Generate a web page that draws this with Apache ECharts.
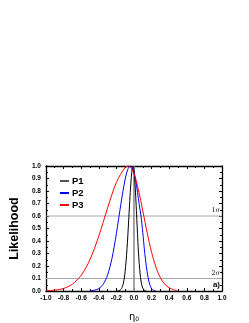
<!DOCTYPE html>
<html><head><meta charset="utf-8">
<script src="https://cdn.jsdelivr.net/npm/echarts@6/dist/echarts.min.js"></script>
<style>html,body{margin:0;padding:0;background:#fff}#c{width:249px;height:323px}</style>
</head><body><div id="c"></div>
<script>
// P1 (black)
const p1X = [-0.20,-0.18,-0.16,-0.14,-0.13,-0.12,-0.11,-0.10,-0.09,-0.08,-0.07,-0.06,-0.05,-0.04,-0.03,-0.02,-0.01,0.00,0.01,0.02,0.03,0.04,0.05,0.06,0.07,0.08,0.09,0.10,0.12,0.14];
const p1Y = [0,0.001,0.006,0.021,0.038,0.064,0.103,0.159,0.234,0.33,0.44,0.567,0.695,0.815,0.91,0.98,1.0,0.97,0.88,0.755,0.61,0.46,0.32,0.22,0.135,0.08,0.044,0.023,0.005,0];
// P2 (blue)
const p2X = [-0.50,-0.45,-0.40,-0.35,-0.30,-0.25,-0.20,-0.15,-0.10,-0.07,-0.04,-0.02,0.00,0.02,0.04,0.06,0.08,0.10,0.12,0.14,0.16,0.18,0.20,0.22,0.25];
const p2Y = [0.0016,0.006,0.019,0.053,0.127,0.26,0.458,0.69,0.896,0.973,1.0,0.985,0.95,0.88,0.79,0.69,0.6,0.47,0.32,0.2,0.11,0.05,0.02,0.007,0];
// P3 (red)
const p3X = [-1.0,-0.9,-0.8,-0.7,-0.6,-0.5,-0.4,-0.3,-0.2,-0.1,-0.06,0.0,0.05,0.1,0.15,0.2,0.25,0.3,0.35,0.4,0.45,0.5];
const p3Y = [0.0018,0.0065,0.02,0.054,0.125,0.25,0.438,0.663,0.869,0.989,1.0,0.94,0.81,0.642,0.466,0.31,0.19,0.106,0.054,0.026,0.011,0];
// reference levels
const sigmaLevels = [0.6, 0.1];
const sigmaLabels = ['1σ', '2σ'];

const zip = (xs, ys) => xs.map((x, i) => [x, ys[i]]);
const chart = echarts.init(document.getElementById('c'), null, {renderer: 'canvas'});
const lblFont = {fontFamily: 'Liberation Sans, Arial, sans-serif', fontWeight: 'bold', fontSize: 6.5, color: '#000'};
const gray = '#a8a8a8';

const series = [];
sigmaLevels.forEach((v, i) => {
  series.push({type: 'line', name: 's' + i, data: [[-1, v], [1, v]], symbol: 'none', silent: true,
    lineStyle: {color: gray, width: 1}, z: 1});
});
series.push({type: 'line', name: 'zero', data: [[0, 0], [0, 1]], symbol: 'none', silent: true,
  lineStyle: {color: '#999', width: 1.8}, z: 1});
series.push({type: 'line', name: 'P1', data: zip(p1X, p1Y), symbol: 'none', smooth: 0.3, lineStyle: {color: '#000', width: 1}, itemStyle: {color: '#555'}, z: 3});
series.push({type: 'line', name: 'P2', data: zip(p2X, p2Y), symbol: 'none', smooth: 0.3, lineStyle: {color: '#0000ff', width: 1}, itemStyle: {color: '#0000ff'}, z: 3});
series.push({type: 'line', name: 'P3', data: zip(p3X, p3Y), symbol: 'none', smooth: 0.3, lineStyle: {color: '#ff0000', width: 1}, itemStyle: {color: '#ff0000'}, z: 3});

const axLine = {onZero: false, lineStyle: {color: '#000', width: 1.3}};
const tick = {inside: true, length: 3, lineStyle: {color: '#000'}};
const minor = {show: true, splitNumber: 2, length: 2, lineStyle: {color: '#000'}};

const option = {
  animation: false,
  backgroundColor: '#fff',
  grid: {left: 42, right: 27, top: 166, bottom: 28, containLabel: false},
  legend: {
    data: ['P1', 'P2', 'P3'], orient: 'vertical', left: 60, top: 176,
    icon: 'rect', itemWidth: 9, itemHeight: 2, itemGap: 2,
    textStyle: {fontFamily: 'Liberation Sans, Arial, sans-serif', fontWeight: 'bold', fontSize: 9.5, color: '#000', lineHeight: 10, padding: [0, 0, 0, -2]},
    padding: 0
  },
  xAxis: [{
    type: 'value', min: -1, max: 1, interval: 0.2,
    name: '{e|η}{s|0}', nameLocation: 'middle', nameGap: 21,
    nameTextStyle: {rich: {e: {fontFamily: 'DejaVu Sans, sans-serif', fontSize: 10, color: '#000'}, s: {fontFamily: 'DejaVu Sans, sans-serif', fontSize: 6, color: '#000', verticalAlign: 'bottom', padding: [4, 0, 0, 0]}}},
    axisLine: axLine, axisTick: tick, minorTick: minor,
    axisLabel: Object.assign({margin: 4, formatter: v => v.toFixed(1)}, lblFont),
    splitLine: {show: false}
  }, {
    type: 'value', min: -1, max: 1, interval: 0.2, position: 'top',
    axisLine: axLine, axisTick: tick, minorTick: minor,
    axisLabel: {show: false}, splitLine: {show: false}
  }],
  yAxis: [{
    type: 'value', min: 0, max: 1, interval: 0.1,
    name: 'Likelihood', nameLocation: 'middle', nameGap: 22, nameRotate: 90,
    nameTextStyle: {fontFamily: 'Liberation Sans, Arial, sans-serif', fontWeight: 'bold', fontSize: 12.5, color: '#000'},
    axisLine: axLine, axisTick: tick, minorTick: minor,
    axisLabel: Object.assign({margin: 5, formatter: v => v.toFixed(1)}, lblFont),
    splitLine: {show: false}
  }, {
    type: 'value', min: 0, max: 1, interval: 0.1, position: 'right',
    axisLine: axLine, axisTick: tick, minorTick: minor,
    axisLabel: {show: false}, splitLine: {show: false}
  }],
  series: series
};
chart.setOption(option);

// annotation texts placed relative to the data levels
const txtStyle = {fontFamily: 'DejaVu Serif, serif', fontSize: 6.5, fill: '#000'};
const g = [];
sigmaLevels.forEach((v, i) => {
  const p = chart.convertToPixel({gridIndex: 0}, [1, v]);
  g.push({type: 'text', x: p[0] - 2, y: p[1] - 2, style: Object.assign({text: sigmaLabels[i], align: 'right', verticalAlign: 'bottom'}, txtStyle)});
});
const pa = chart.convertToPixel({gridIndex: 0}, [1, 0.1]);
g.push({type: 'text', x: pa[0] - 2, y: pa[1] + 2, style: {text: 'a)', align: 'right', verticalAlign: 'top', fontFamily: 'Liberation Sans, Arial, sans-serif', fontWeight: 'bold', fontSize: 8, fill: '#000'}});
chart.setOption({graphic: g});
</script></body></html>
